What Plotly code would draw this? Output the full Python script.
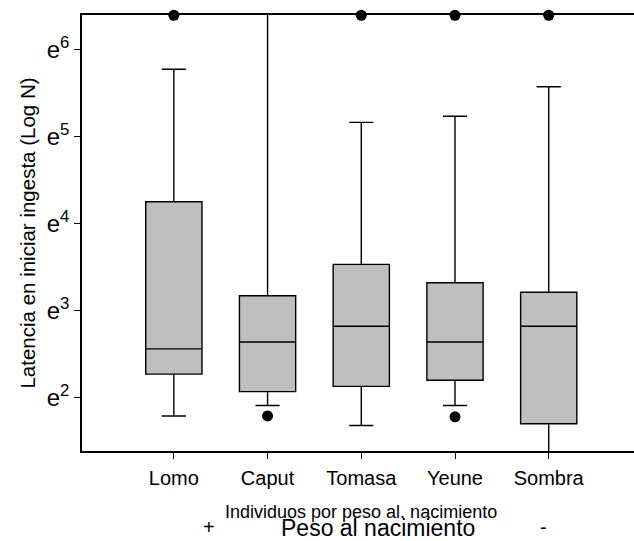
import plotly.graph_objects as go

# Latency to first intake, in natural-log units (ln N), per individual
individuos = ["Lomo", "Caput", "Tomasa", "Yeune", "Sombra"]
bigote_inf = [1.79, 1.91, 1.68, 1.91, 1.30]
cuartil_1 = [2.27, 2.07, 2.13, 2.20, 1.70]
mediana = [2.56, 2.64, 2.82, 2.64, 2.82]
cuartil_3 = [4.25, 3.17, 3.53, 3.32, 3.21]
bigote_sup = [5.77, 6.50, 5.16, 5.23, 5.57]

# Outlying observations
atipicos_x = ["Lomo", "Tomasa", "Yeune", "Sombra", "Caput", "Yeune"]
atipicos_y = [6.39, 6.39, 6.39, 6.39, 1.79, 1.78]

# Y-axis ticks (powers of e)
exponentes = [2, 3, 4, 5, 6]
etiquetas_y = [f"e<sup>{k}</sup>" for k in exponentes]

FONT = "Liberation Sans, Arial, sans-serif"

fig = go.Figure()

fig.add_trace(go.Box(
    x=individuos,
    lowerfence=bigote_inf,
    q1=cuartil_1,
    median=mediana,
    q3=cuartil_3,
    upperfence=bigote_sup,
    fillcolor="#bfbfbf",
    line=dict(color="black", width=1.4),
    width=0.6,
    whiskerwidth=0.43,
    showlegend=False,
    hoverinfo="skip",
))

fig.add_trace(go.Scatter(
    x=atipicos_x,
    y=atipicos_y,
    mode="markers",
    marker=dict(color="black", size=11),
    cliponaxis=False,
    showlegend=False,
    hoverinfo="skip",
))

fig.update_layout(
    width=634,
    height=541,
    margin=dict(l=82, r=0, t=15, b=90),
    paper_bgcolor="white",
    plot_bgcolor="white",
    font=dict(family=FONT, color="black"),
    xaxis=dict(
        type="category",
        categoryorder="array",
        categoryarray=individuos,
        range=[-0.98, 4.91],
        showline=True,
        linecolor="black",
        linewidth=1.5,
        mirror=True,
        ticks="outside",
        ticklen=6,
        tickcolor="black",
        tickwidth=1.2,
        tickfont=dict(size=20, family=FONT, color="black"),
        ticklabelstandoff=2,
        showgrid=False,
        zeroline=False,
    ),
    yaxis=dict(
        range=[1.388, 6.393],
        tickvals=exponentes,
        ticktext=etiquetas_y,
        showline=True,
        linecolor="black",
        linewidth=1.5,
        ticks="outside",
        ticklen=6,
        tickcolor="black",
        tickwidth=1.2,
        tickfont=dict(size=24, family=FONT, color="black"),
        showgrid=False,
        zeroline=False,
        title=dict(
            text="Latencia en iniciar ingesta (Log N)",
            font=dict(size=20.5, family=FONT, color="black"),
            standoff=6,
        ),
    ),
)

# Axis caption and birth-weight scale beneath the categories
fig.add_annotation(
    text="Individuos por peso al. nacimiento",
    xref="paper", yref="paper", x=(361 - 82) / 552, y=-(512 - 451) / 436,
    showarrow=False, font=dict(size=18, family=FONT, color="black"),
    xanchor="center", yanchor="middle",
)
fig.add_annotation(
    text="Peso al nacimiento",
    xref="paper", yref="paper", x=(378 - 82) / 552, y=-(528 - 451) / 436,
    showarrow=False, font=dict(size=23, family=FONT, color="black"),
    xanchor="center", yanchor="middle",
)
fig.add_annotation(
    text="+",
    xref="paper", yref="paper", x=(209 - 82) / 552, y=-(527 - 451) / 436,
    showarrow=False, font=dict(size=20, family=FONT, color="black"),
    xanchor="center", yanchor="middle",
)
fig.add_annotation(
    text="-",
    xref="paper", yref="paper", x=(543 - 82) / 552, y=-(527 - 451) / 436,
    showarrow=False, font=dict(size=20, family=FONT, color="black"),
    xanchor="center", yanchor="middle",
)

fig.write_html("out.html")
